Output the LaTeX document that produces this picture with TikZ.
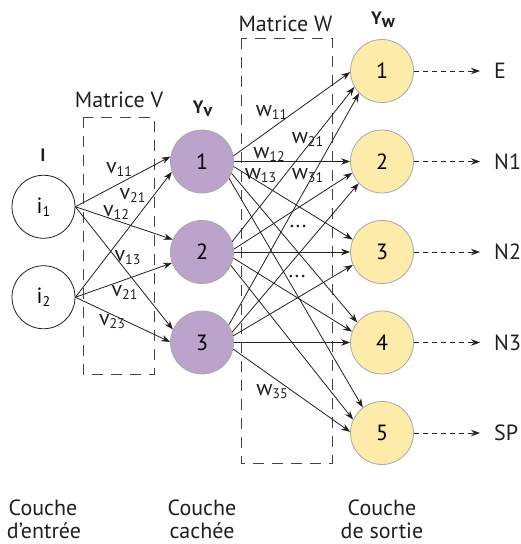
\documentclass[tikz,border=0pt]{standalone}
\usepackage{fontspec}
\setmainfont{PT Sans}
\usetikzlibrary{arrows.meta}
\definecolor{hid}{HTML}{BBA3CC}
\definecolor{outc}{HTML}{FDEBAA}
\definecolor{ink}{HTML}{231F20}
\definecolor{rim}{HTML}{A7A9AC}
\newcommand\lowsub[1]{\raisebox{-3pt}{\fontsize{14}{14}\selectfont #1}}
\begin{document}
\begin{tikzpicture}[x=1pt,y=-1pt, font=\fontsize{22}{26}\selectfont,
 neuron/.style={circle, minimum size=63pt, inner sep=0pt, line width=0.8pt},
 innode/.style={neuron, draw=ink, fill=white},
 hidnode/.style={neuron, draw=rim, fill=hid},
 outnode/.style={neuron, draw=rim, fill=outc},
 edge/.style={draw=ink, line width=0.8pt, -{Stealth[length=9pt,width=6.5pt]}},
 outedge/.style={draw=ink, line width=0.8pt, dash pattern=on 5pt off 4pt, -{Stealth[length=9pt,width=6.5pt]}, shorten >=14pt},
 matbox/.style={draw=ink!85, line width=0.8pt, dash pattern=on 11pt off 8pt},
 wlbl/.style={inner sep=0pt, text=ink},
 boldlbl/.style={font=\fontsize{18}{21}\selectfont\bfseries, inner sep=0pt, text=ink},
 outlbl/.style={anchor=west, inner sep=0pt, text=ink},
 laylbl/.style={anchor=base, inner sep=0pt, text=ink}]
\useasboundingbox (0,0) rectangle (521,544);

% matrix boxes
\draw[matbox] (83,117) rectangle (154,374);
\draw[matbox] (241,38) rectangle (332,463);
\node[wlbl] (mV) at (119,100) {Matrice V};
\node[wlbl] (mW) at (285.5,23.5) {Matrice W};

% nodes
\node[innode] (i1) at (43.5,206.75) {i\lowsub{1}};
\node[innode] (i2) at (43.5,297.25) {i\lowsub{2}};
\node[hidnode] (H1) at (202,161.5) {1};
\node[hidnode] (H2) at (202,252) {2};
\node[hidnode] (H3) at (202,342.5) {3};
\node[outnode] (O1) at (382,71) {1};
\node[outnode] (O2) at (382,161.5) {2};
\node[outnode] (O3) at (382,252) {3};
\node[outnode] (O4) at (382,342.5) {4};
\node[outnode] (O5) at (382,433) {5};

% titles
\node[boldlbl] (tI) at (43,155) {I};
\node[boldlbl] (tYv) at (202.5,109) {Y\raisebox{-2.7pt}{v}};
\node[boldlbl] (tYw) at (383,20) {Y\raisebox{-2.7pt}{w}};

% input -> hidden
\draw[edge] (i1.east) -- (H1.171.8);
\draw[edge] (i1.east) -- (H2.157.6);
\draw[edge] (i1.east) -- (H3.156.6);
\draw[edge] (i2.east) -- (H1.199.5);
\draw[edge] (i2.east) -- (H2.200.4);
\draw[edge] (i2.east) -- (H3.179);

% hidden -> output
\draw[edge] (H1.10) -- (O1.182);
\draw[edge] (H1.0) -- (O2.180);
\draw[edge] (H1.351) -- (O3.157.6);
\draw[edge] (H1.338.5) -- (O4.141.8);
\draw[edge] (H1.328.4) -- (O5.127.5);
\draw[edge] (H2.19) -- (O1.210.5);
\draw[edge] (H2.5.5) -- (O2.201.4);
\draw[edge] (H2.0) -- (O3.180);
\draw[edge] (H2.349) -- (O4.160.5);
\draw[edge] (H2.335.5) -- (O5.155.6);
\draw[edge] (H3.33.7) -- (O1.224.3);
\draw[edge] (H3.19.5) -- (O2.223);
\draw[edge] (H3.12) -- (O3.204.4);
\draw[edge] (H3.0) -- (O4.180);
\draw[edge] (H3.348) -- (O5.178);

% outputs
\node[outlbl] (lE) at (494,71) {E};
\node[outlbl] (lN1) at (494,161.5) {N1};
\node[outlbl] (lN2) at (494,252) {N2};
\node[outlbl] (lN3) at (494,342.5) {N3};
\node[outlbl] (lSP) at (494,433) {SP};
\draw[outedge] (O1.east) -- (lE.west);
\draw[outedge] (O2.east) -- (lN1.west);
\draw[outedge] (O3.east) -- (lN2.west);
\draw[outedge] (O4.east) -- (lN3.west);
\draw[outedge] (O5.east) -- (lSP.west);

% v labels
\node[wlbl] (v11) at (119,169) {v\lowsub{11}};
\node[wlbl] (v21a) at (132.5,195) {v\lowsub{21}};
\node[wlbl] (v12) at (116,212) {v\lowsub{12}};
\node[wlbl] (v13) at (127.5,258) {v\lowsub{13}};
\node[wlbl] (v21b) at (124.5,292) {v\lowsub{21}};
\node[wlbl] (v23) at (112,322) {v\lowsub{23}};

% w labels
\node[wlbl] (w11) at (271.5,112) {w\lowsub{11}};
\node[wlbl] (w21) at (307.5,139) {w\lowsub{21}};
\node[wlbl] (w12) at (269,154) {w\lowsub{12}};
\node[wlbl] (w13) at (260.5,176) {w\lowsub{13}};
\node[wlbl] (w31) at (307.5,176) {w\lowsub{31}};
\node[wlbl] (d1) at (298,226) {...};
\node[wlbl] (d2) at (297,276) {...};
\node[wlbl] (w35) at (272,391.5) {w\lowsub{35}};

% layer labels
\node[laylbl] (c1a) at (43,515) {Couche};
\node[laylbl] (c1b) at (44,538) {d’entrée};
\node[laylbl] (c2a) at (202,515) {Couche};
\node[laylbl] (c2b) at (202,538) {cachée};
\node[laylbl] (c3a) at (382,515) {Couche};
\node[laylbl] (c3b) at (382,538) {de sortie};
\end{tikzpicture}
\end{document}
